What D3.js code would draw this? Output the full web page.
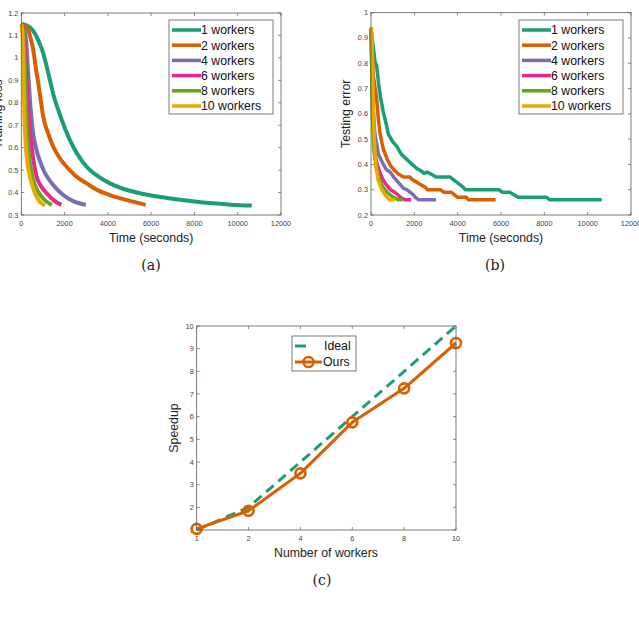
<!DOCTYPE html>
<html>
<head>
<meta charset="utf-8">
<script src="https://cdn.jsdelivr.net/npm/d3@7"></script>
<style>
html,body{margin:0;padding:0;background:#fff;}
svg{display:block;}
text{font-family:"Liberation Sans",Arial,sans-serif;}
</style>
</head>
<body>
<svg id="c" width="639" height="621"></svg>
<script>
// ---------------- DATA ----------------
const seriesNames = ["1 workers","2 workers","4 workers","6 workers","8 workers","10 workers"];
const seriesColors = ["#1b9e77","#d95f02","#7570b3","#e7298a","#66a61e","#e6ab02"];

// (a) Training loss vs time (seconds)
const train1 = [[0,1.15],[250,1.145],[550,1.12],[800,1.075],[1015,1.02],[1200,0.95],[1350,0.89],[1500,0.83],[1708,0.768],[2000,0.69],[2248,0.634],[2600,0.57],[3018,0.515],[3500,0.475],[4094,0.441],[4700,0.417],[5478,0.397],[6300,0.382],[7171,0.370],[8000,0.360],[8862,0.352],[9700,0.346],[10650,0.342]];
const train2 = [[0,1.15],[150,1.145],[323,1.124],[450,1.08],[554,1.035],[680,0.95],[785,0.887],[900,0.81],[1015,0.738],[1250,0.66],[1477,0.604],[1800,0.55],[2095,0.515],[2500,0.475],[3018,0.441],[3500,0.412],[4094,0.389],[4900,0.366],[5750,0.345]];
const train4 = [[0,1.15],[120,1.13],[217,1.08],[300,0.96],[380,0.84],[470,0.73],[554,0.66],[700,0.59],[863,0.54],[1050,0.495],[1325,0.452],[1600,0.42],[1938,0.389],[2400,0.362],[2986,0.345]];
const train6 = [[0,1.15],[100,1.12],[200,0.98],[300,0.80],[402,0.67],[550,0.55],[710,0.47],[900,0.43],[1171,0.397],[1500,0.365],[1850,0.345]];
const train8 = [[0,1.15],[80,1.12],[160,0.97],[249,0.70],[350,0.57],[554,0.456],[800,0.40],[1100,0.365],[1410,0.345]];
const train10 = [[0,1.15],[60,1.10],[100,0.95],[140,0.75],[200,0.62],[300,0.52],[402,0.47],[550,0.42],[710,0.38],[900,0.355],[1094,0.342]];

// (b) Testing error vs time (seconds)
const test1 = [[0,0.94],[180,0.81],[260,0.79],[350,0.72],[450,0.66],[560,0.61],[700,0.56],[800,0.52],[1000,0.49],[1200,0.47],[1400,0.44],[1650,0.42],[1900,0.40],[2100,0.385],[2300,0.375],[2450,0.365],[2600,0.37],[2800,0.36],[3000,0.35],[3650,0.35],[3800,0.34],[3950,0.33],[4100,0.32],[4250,0.31],[4350,0.30],[5900,0.30],[6050,0.29],[6400,0.29],[6600,0.28],[6800,0.27],[8100,0.27],[8250,0.26],[10650,0.26]];
const test2 = [[0,0.94],[60,0.85],[110,0.75],[260,0.66],[340,0.58],[420,0.52],[570,0.46],[750,0.42],[900,0.395],[1100,0.375],[1300,0.36],[1500,0.35],[1800,0.35],[1900,0.34],[2100,0.33],[2300,0.32],[2500,0.31],[2600,0.30],[3200,0.30],[3350,0.29],[3700,0.29],[3850,0.28],[4000,0.27],[4400,0.27],[4500,0.26],[5750,0.26]];
const test4 = [[0,0.94],[100,0.62],[180,0.52],[340,0.44],[570,0.40],[700,0.38],[880,0.37],[1050,0.35],[1200,0.335],[1350,0.32],[1500,0.305],[1650,0.30],[1800,0.29],[1950,0.28],[2050,0.27],[2200,0.26],[3000,0.26]];
const test6 = [[0,0.94],[80,0.60],[150,0.47],[250,0.41],[400,0.37],[550,0.34],[700,0.32],[900,0.30],[1100,0.29],[1300,0.275],[1450,0.265],[1550,0.26],[1850,0.26]];
const test8 = [[0,0.94],[70,0.58],[140,0.45],[250,0.38],[400,0.34],[550,0.31],[750,0.29],[950,0.275],[1150,0.265],[1250,0.26],[1450,0.26]];
const test10 = [[30,0.94],[70,0.80],[110,0.62],[150,0.50],[220,0.40],[320,0.34],[450,0.31],[600,0.285],[750,0.27],[850,0.26],[1100,0.26]];

// (c) Speedup
const workersCount = [1,2,4,6,8,10];
const idealSpeedup = [1,2,4,6,8,10];
const oursSpeedup = [1.05,1.85,3.5,5.75,7.25,9.25];

// tick values
const timeTicks = [0,2000,4000,6000,8000,10000,12000];
const lossTicks = [0.3,0.4,0.5,0.6,0.7,0.8,0.9,1,1.1,1.2];
const errTicks = [0.2,0.3,0.4,0.5,0.6,0.7,0.8,0.9,1];
const speedTicks = [1,2,3,4,5,6,7,8,9,10];

// ---------------- DRAW ----------------
const svg = d3.select("#c");
const axisColor = "#5a5a5a";
const tickTextColor = "#444";

function frame(g, x, y, xt, yt, xfmt, yfmt) {
  const [x0,x1] = x.range(), [y0,y1] = y.range();
  const tl = 3;
  xt.forEach(v => {
    const px = x(v);
    g.append("line").attr("x1",px).attr("x2",px).attr("y1",y0).attr("y2",y0-tl).attr("stroke",axisColor).attr("stroke-width",0.7);
    g.append("line").attr("x1",px).attr("x2",px).attr("y1",y1).attr("y2",y1+tl).attr("stroke",axisColor).attr("stroke-width",0.7);
    g.append("text").attr("x",px).attr("y",y0+11).attr("text-anchor","middle").attr("font-size",7.3).attr("fill",tickTextColor).text(xfmt(v));
  });
  yt.forEach(v => {
    const py = y(v);
    g.append("line").attr("x1",x0).attr("x2",x0+tl).attr("y1",py).attr("y2",py).attr("stroke",axisColor).attr("stroke-width",0.7);
    g.append("line").attr("x1",x1).attr("x2",x1-tl).attr("y1",py).attr("y2",py).attr("stroke",axisColor).attr("stroke-width",0.7);
    g.append("text").attr("x",x0-3).attr("y",py+2.5).attr("text-anchor","end").attr("font-size",7.3).attr("fill",tickTextColor).text(yfmt(v));
  });
}
function box(g, x, y) {
  const [x0,x1] = x.range(), [y0,y1] = y.range();
  g.append("rect").attr("x",x0).attr("y",y1).attr("width",x1-x0).attr("height",y0-y1)
    .attr("fill","none").attr("stroke",axisColor).attr("stroke-width",0.8);
}
const numFmt = v => String(+v.toFixed(1));

function linePanel(xr, yr, ydom, yticks, datasets, ylabel, ylabelX, legendX, caption, captionX, lw, curve) {
  const g = svg.append("g");
  const x = d3.scaleLinear().domain([0,12000]).range(xr);
  const y = d3.scaleLinear().domain(ydom).range(yr);
  frame(g, x, y, timeTicks, yticks, d => String(d), numFmt);
  const line = d3.line().x(d => x(d[0])).y(d => y(d[1])).curve(curve);
  const cp = g.append("g");
  datasets.forEach((ds,i) => {
    cp.append("path").attr("d", line(ds)).attr("fill","none")
      .attr("stroke", seriesColors[i]).attr("stroke-width", lw)
      .attr("stroke-linejoin","round").attr("stroke-linecap","butt");
  });
  box(g, x, y);
  const lg = g.append("g").attr("transform", `translate(${legendX},20)`);
  lg.append("rect").attr("x",0).attr("y",0).attr("width",104).attr("height",94)
    .attr("fill","#fff").attr("stroke",axisColor).attr("stroke-width",0.8);
  seriesNames.forEach((n,i) => {
    const yy = 10 + i*15.2;
    lg.append("line").attr("x1",3).attr("x2",32).attr("y1",yy).attr("y2",yy)
      .attr("stroke",seriesColors[i]).attr("stroke-width",3.5);
    lg.append("text").attr("x",32).attr("y",yy+4.3).attr("font-size",12.3).attr("fill","#111").text(n);
  });
  g.append("text").attr("x",(xr[0]+xr[1])/2).attr("y",242).attr("text-anchor","middle")
    .attr("font-size",12.3).attr("fill","#222").text("Time (seconds)");
  g.append("text").attr("transform",`translate(${ylabelX},${(yr[0]+yr[1])/2}) rotate(-90)`)
    .attr("text-anchor","middle").attr("font-size",12.3).attr("fill","#222").text(ylabel);
  svg.append("text").attr("x",captionX).attr("y",270).attr("text-anchor","middle")
    .style("font-family","'DejaVu Serif','Liberation Serif',serif").attr("font-size",14).attr("fill","#222").text(caption);
}

linePanel([21.3,281], [215,13], [0.3,1.2], lossTicks,
  [train1,train2,train4,train6,train8,train10], "Training loss", 1.5, 169, "(a)", 151, 4, d3.curveMonotoneX);
linePanel([371,631], [215,12.7], [0.2,1], errTicks,
  [test1,test2,test4,test6,test8,test10], "Testing error", 350, 519, "(b)", 495, 3.5, d3.curveLinear);

// (c) speedup panel — worker counts are evenly spaced categories
(function(){
  const g = svg.append("g");
  const x = d3.scalePoint().domain(workersCount).range([196.7,456]).padding(0);
  const y = d3.scaleLinear().domain([1,10]).range([530,326]);
  frame(g, x, y, workersCount, speedTicks, d => String(d), d => String(d));
  const line = d3.line().x((d,i) => x(workersCount[i])).y(d => y(d));
  g.append("path").attr("d", line(idealSpeedup)).attr("fill","none")
    .attr("stroke","#1b9e77").attr("stroke-width",3).attr("stroke-dasharray","10,6");
  g.append("path").attr("d", line(oursSpeedup)).attr("fill","none")
    .attr("stroke","#d95f02").attr("stroke-width",3).attr("stroke-linejoin","round");
  g.selectAll("circle.m").data(oursSpeedup).enter().append("circle")
    .attr("cx",(d,i)=>x(workersCount[i])).attr("cy",d=>y(d)).attr("r",5)
    .attr("fill","none").attr("stroke","#d95f02").attr("stroke-width",2.6);
  box(g, x, y);
  const lg = g.append("g").attr("transform","translate(292,336)");
  lg.append("rect").attr("x",0).attr("y",0).attr("width",64).attr("height",35)
    .attr("fill","#fff").attr("stroke",axisColor).attr("stroke-width",0.8);
  lg.append("line").attr("x1",3).attr("x2",14).attr("y1",10).attr("y2",10)
    .attr("stroke","#1b9e77").attr("stroke-width",3);
  lg.append("text").attr("x",32).attr("y",14.3).attr("font-size",12.3).attr("fill","#111").text("Ideal");
  lg.append("line").attr("x1",3).attr("x2",30).attr("y1",26).attr("y2",26)
    .attr("stroke","#d95f02").attr("stroke-width",3);
  lg.append("circle").attr("cx",16.5).attr("cy",26).attr("r",5).attr("fill","none")
    .attr("stroke","#d95f02").attr("stroke-width",2.6);
  lg.append("text").attr("x",31).attr("y",30.3).attr("font-size",12.3).attr("fill","#111").text("Ours");
  g.append("text").attr("x",326).attr("y",557).attr("text-anchor","middle")
    .attr("font-size",12.3).attr("fill","#222").text("Number of workers");
  g.append("text").attr("transform","translate(178,428) rotate(-90)")
    .attr("text-anchor","middle").attr("font-size",12.3).attr("fill","#222").text("Speedup");
  svg.append("text").attr("x",322).attr("y",585).attr("text-anchor","middle")
    .style("font-family","'DejaVu Serif','Liberation Serif',serif").attr("font-size",14).attr("fill","#222").text("(c)");
})();
</script>
</body>
</html>
